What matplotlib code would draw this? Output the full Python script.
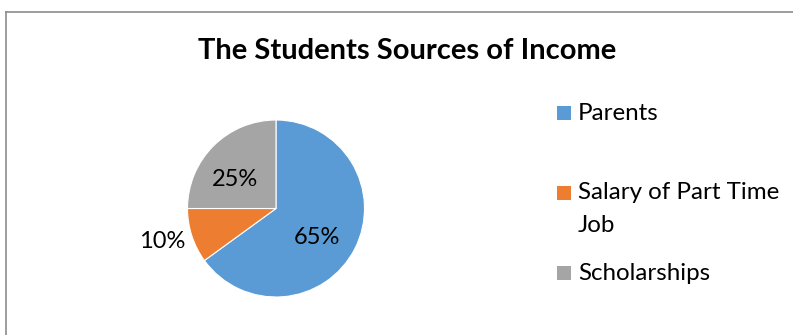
import matplotlib
matplotlib.use("Agg")
import matplotlib.pyplot as plt
from matplotlib.patches import Rectangle
from matplotlib.lines import Line2D

plt.rcParams['font.family'] = ['Lato', 'DejaVu Sans']

title = "The Students Sources of Income"
categories = ["Parents", "Salary of Part Time\nJob", "Scholarships"]
shares = [65, 10, 25]
colors = ["#5B9BD5", "#ED7D31", "#A5A5A5"]

W, H = 793, 335
fig = plt.figure(figsize=(W / 100, H / 100), dpi=100)

# chart frame (top and left edges visible)
fig.add_artist(Line2D([6 / W, 6 / W], [0, 1 - 11.5 / H], color="#8C8C8C", lw=1.2))
fig.add_artist(Line2D([6 / W, 1], [1 - 11.5 / H, 1 - 11.5 / H], color="#8C8C8C", lw=1.2))

fig.text(407 / W, 1 - 51 / H, title, ha="center", va="center",
         fontsize=21, fontweight="bold", color="black")

# pie area
cx, cy, r = 276, 208.5, 88.5
ax = fig.add_axes([(cx - r) / W, (H - cy - r) / H, 2 * r / W, 2 * r / H])
wedges, _, autotexts = ax.pie(
    shares, colors=colors, startangle=90, counterclock=False,
    autopct=lambda p: f"{p:.0f}%", pctdistance=0.6,
    wedgeprops=dict(edgecolor="white", linewidth=0.8),
    textprops=dict(fontsize=17, color="black"))
ax.set_xlim(-1, 1)
ax.set_ylim(-1, 1)
ax.set_aspect("equal")
ax.axis("off")

label_pos = [(0.46, -0.33), (-1.29, -0.37), (-0.46, 0.33)]
for t, (x, y) in zip(autotexts, label_pos):
    t.set_position((x, y))
    t.set_ha("center")
    t.set_va("center")

# legend: swatch aligned with the first line of each entry
legend_rows = [113, 193, 273]
line_gap = 32
for name, col, y in zip(categories, colors, legend_rows):
    fig.add_artist(Rectangle((557 / W, 1 - (y + 7) / H), 14 / W, 14 / H,
                             facecolor=col, edgecolor="none",
                             transform=fig.transFigure))
    for i, line in enumerate(name.split("\n")):
        fig.text(578 / W, 1 - (y + i * line_gap) / H, line, ha="left", va="center",
                 fontsize=17.4, color="black")

fig.savefig("out.png", dpi=100, facecolor="white")
